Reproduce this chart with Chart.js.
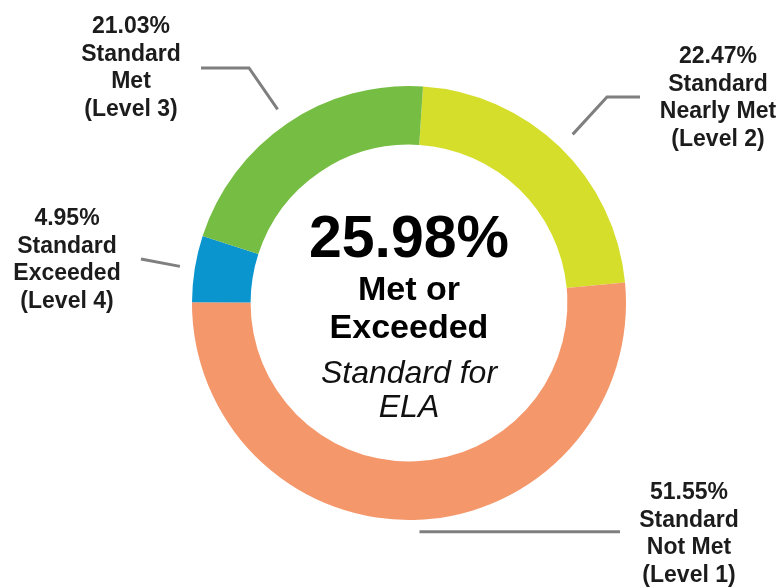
<!DOCTYPE html>
<html>
<head>
<meta charset="utf-8">
<script src="https://cdn.jsdelivr.net/npm/chart.js@4.4.1/dist/chart.umd.min.js"></script>
<style>
  html, body { margin: 0; padding: 0; background: #ffffff; }
  #wrap { width: 782px; height: 587px; }
</style>
</head>
<body>
<div id="wrap"><canvas id="c" width="782" height="587"></canvas></div>
<script>
// Data (clockwise from just right of 12 o'clock)
const categories = ["Standard Nearly Met (Level 2)", "Standard Not Met (Level 1)", "Standard Exceeded (Level 4)", "Standard Met (Level 3)"];
const percents = [22.47, 51.55, 4.95, 21.03];
const colors = ["#D5DE2B", "#F4976B", "#0B95CF", "#76BD43"];
const labelLines = [
  ["22.47%", "Standard", "Nearly Met", "(Level 2)"],
  ["51.55%", "Standard", "Not Met", "(Level 1)"],
  ["4.95%", "Standard", "Exceeded", "(Level 4)"],
  ["21.03%", "Standard", "Met", "(Level 3)"]
];
const centerTotal = "25.98%";
const centerLines = ["Met or", "Exceeded"];
const centerSubLines = ["Standard for", "ELA"];

// Annotation layout (offsets relative to chart center): label text center x, first baseline y,
// gap of leader start beyond ring, elbow point, line end
const labelLayout = [
  { tx: 309, ty: -240, gap: 18, elbow: [198, -206], end: [231, -206] },
  { tx: 280, ty: 196, gap: 12, elbow: null, end: [211, 229] },
  { tx: -342, ty: -78, gap: 15, elbow: null, end: [-268, -44] },
  { tx: -278, ty: -270, gap: 17, elbow: [-160, -235], end: [-208, -235] }
];

const FONT = '"Liberation Sans", Arial, Helvetica, sans-serif';

const annotPlugin = {
  id: 'annot',
  afterDatasetsDraw(chart) {
    const ctx = chart.ctx;
    const meta = chart.getDatasetMeta(0);
    const first = meta.data[0];
    const cx = first.x, cy = first.y;
    ctx.save();
    meta.data.forEach((arc, i) => {
      const L = labelLayout[i];
      const mid = (arc.startAngle + arc.endAngle) / 2;
      const r = arc.outerRadius + L.gap;
      const ax = cx + Math.cos(mid) * r;
      const ay = cy + Math.sin(mid) * r;
      ctx.beginPath();
      ctx.moveTo(ax, ay);
      if (L.elbow) ctx.lineTo(cx + L.elbow[0], cy + L.elbow[1]);
      ctx.lineTo(cx + L.end[0], L.elbow ? cy + L.end[1] : (i === 1 ? ay : cy + L.end[1]));
      ctx.strokeStyle = "#7f7f7f";
      ctx.lineWidth = 3;
      ctx.lineJoin = "miter";
      ctx.stroke();
      ctx.fillStyle = "#1c1c1c";
      ctx.font = "bold 23px " + FONT;
      ctx.textAlign = "center";
      ctx.textBaseline = "alphabetic";
      labelLines[i].forEach((t, k) => {
        ctx.fillText(t, cx + L.tx, cy + L.ty + k * 27.7);
      });
    });
    ctx.fillStyle = "#000000";
    ctx.textAlign = "center";
    ctx.font = "bold 59px " + FONT;
    ctx.fillText(centerTotal, cx, cy - 46);
    ctx.font = "bold 34px " + FONT;
    ctx.fillText(centerLines[0], cx, cy - 3);
    ctx.fillText(centerLines[1], cx, cy + 35);
    ctx.fillStyle = "#111111";
    ctx.font = "italic 32px " + FONT;
    ctx.fillText(centerSubLines[0], cx, cy + 80);
    ctx.fillText(centerSubLines[1], cx, cy + 114);
    ctx.restore();
  }
};

new Chart(document.getElementById('c'), {
  type: 'doughnut',
  data: {
    labels: categories,
    datasets: [{
      data: percents,
      backgroundColor: colors,
      borderWidth: 0,
      hoverOffset: 0
    }]
  },
  options: {
    responsive: false,
    animation: false,
    rotation: 3.7,
    cutout: '73%',
    layout: { padding: { left: 192, right: 156, top: 86, bottom: 67 } },
    plugins: {
      legend: { display: false },
      tooltip: { enabled: false }
    },
    events: []
  },
  plugins: [annotPlugin]
});
</script>
</body>
</html>
